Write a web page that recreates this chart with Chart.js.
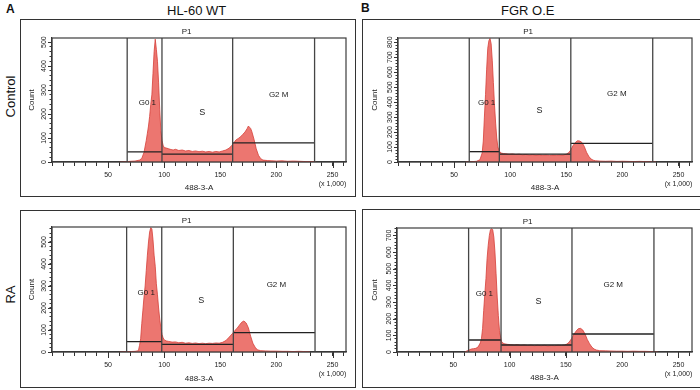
<!DOCTYPE html>
<html><head><meta charset="utf-8">
<script src="https://cdn.jsdelivr.net/npm/chart.js@4.4.0/dist/chart.umd.min.js"></script>
<style>
html,body{margin:0;padding:0;background:#fff;width:700px;height:390px;overflow:hidden;font-family:"Liberation Sans",Arial,sans-serif;}
.box{position:absolute;border:1.5px solid #333;box-sizing:border-box;}
canvas{position:absolute;}
.t{position:absolute;color:#111;white-space:nowrap;line-height:1;}
</style></head><body>
<div class="t" style="left:6px;top:3px;font-weight:bold;font-size:12px;">A</div>
<div class="t" style="left:167px;top:4px;font-size:13px;">HL-60 WT</div>
<div class="t" style="left:361px;top:2px;font-weight:bold;font-size:12px;">B</div>
<div class="t" style="left:501px;top:4px;font-size:13px;">FGR O.E</div>
<div class="t" style="left:-12px;top:90px;font-size:13px;width:44px;text-align:center;transform:rotate(-90deg);">Control</div>
<div class="t" style="left:-12px;top:288px;font-size:13px;width:44px;text-align:center;transform:rotate(-90deg);">RA</div>

<div class="box" style="left:20px;top:19px;width:336px;height:178px;"></div>
<div class="box" style="left:362px;top:19px;width:340px;height:178px;"></div>
<div class="box" style="left:20px;top:210px;width:336px;height:178px;"></div>
<div class="box" style="left:362px;top:209px;width:340px;height:179px;"></div>

<canvas id="c1" width="333" height="175" style="left:21px;top:21px;"></canvas>
<canvas id="c2" width="333" height="175" style="left:364px;top:21px;"></canvas>
<canvas id="c3" width="333" height="175" style="left:21px;top:212px;"></canvas>
<canvas id="c4" width="333" height="175" style="left:364px;top:211px;"></canvas>

<script>
// ---- data (DNA content, x1000) ----
const gateNames = ['G0 1', 'S', 'G2 M'];
const xMajorLabels = [50, 100, 150, 200, 250];

// HL-60 WT, Control
const xWtCtrl = [60,66,70,74,78,80,82,84,85,86,87,88,89,90,91,92,93,94,95,96,97,98,99,100,102,104,106,108,110,113,116,119,122,125,128,131,134,137,140,143,146,149,152,155,158,160,162,164,166,168,170,172,174,175,176,177,178,180,182,184,186,188,192,196,200,205,210,215,220,225,230,235];
const cWtCtrl = [0,1,3,4,8,15,40,90,120,150,190,240,280,370,460,512,470,420,330,220,130,90,70,60,58,55,52,50,53,48,50,46,48,44,46,43,45,42,44,41,44,42,46,50,58,68,80,92,98,105,115,125,140,150,145,140,128,95,55,28,14,8,6,5,4,5,3,4,3,2,2,1];
const gatesWtCtrl = [67, 98, 161, 234];
const levelsWtCtrl = [42, 33, 80];
const labelsWtCtrl = [[85, 246], [134, 208], [202, 280]];
const p1WtCtrl = 120;
const yMaxWtCtrl = 517;

// FGR O.E, Control
const xFgrCtrl = [60,66,70,73,75,76,77,78,79,80,81,82,83,84,85,86,87,88,89,90,91,92,94,96,99,102,105,108,111,114,117,120,123,126,129,132,135,138,141,144,147,150,152,154,156,158,160,162,164,166,168,170,172,174,176,180,185,190,195,200,205,210,215,220,225,230];
const cFgrCtrl = [0,2,5,15,60,140,300,450,620,760,810,825,790,680,530,380,260,160,100,78,65,60,56,55,52,54,50,52,48,50,47,49,46,48,45,47,44,46,45,47,46,52,62,80,110,130,142,140,130,104,65,38,20,12,8,6,5,6,4,5,4,3,4,3,2,1];
const gatesFgrCtrl = [63.5, 90.3, 154, 227];
const levelsFgrCtrl = [69, 53, 124];
const labelsFgrCtrl = [[79, 393], [126, 347], [195, 453]];
const p1FgrCtrl = 116;
const yMaxFgrCtrl = 828;

// HL-60 WT, RA
const xWtRa = [60,66,70,74,77,78,79,80,81,82,83,84,85,86,87,88,89,90,91,92,93,94,95,96,97,98,99,100,102,104,107,110,113,116,119,122,125,128,131,134,137,140,143,146,149,152,155,158,161,163,165,167,169,171,173,175,177,179,181,183,186,190,195,200,205,210,215,220,225,230];
const cWtRa = [0,1,2,3,6,30,60,130,190,250,300,370,440,500,545,565,560,510,440,390,310,260,200,150,110,80,65,55,50,48,45,46,42,44,40,42,39,41,38,40,38,40,39,41,40,44,52,68,85,98,108,122,135,141,132,110,72,40,22,10,6,5,4,4,3,3,2,3,2,1];
const gatesWtRa = [66.5, 97.8, 161.6, 234.4];
const levelsWtRa = [47, 35, 88];
const labelsWtRa = [[84, 267], [133, 232], [200, 305]];
const p1WtRa = 120;
const yMaxWtRa = 568;

// FGR O.E, RA
const xFgrRa = [60,64,66,68,70,72,74,75,76,77,78,79,80,81,82,83,84,85,86,87,88,89,90,91,92,93,95,98,101,104,107,110,113,116,119,122,125,128,131,134,137,140,143,146,149,151,153,155,157,159,161,163,165,167,169,171,173,175,177,180,185,190,195,200,205,210,215,220,225,228,232];
const cFgrRa = [0,12,18,20,22,30,55,80,140,250,350,440,560,640,700,735,740,735,690,600,470,330,220,130,90,60,50,46,44,42,44,40,42,39,41,38,40,38,40,37,39,38,40,39,42,48,60,80,105,125,140,142,132,108,75,50,30,18,12,8,7,6,5,5,4,5,4,4,3,2,0];
const gatesFgrRa = [63.6, 92.4, 155.4, 228.2];
const levelsFgrRa = [72, 42, 108];
const labelsFgrRa = [[77.6, 351], [125.7, 305], [192, 401]];
const p1FgrRa = 116;
const yMaxFgrRa = 745;

// ---- drawing ----
const FONT = '"Liberation Sans", Arial, sans-serif';
const deco = {
  id: 'deco',
  afterDatasetsDraw(chart, args, o) {
    const {ctx, chartArea: a, scales: {x, y}} = chart;
    ctx.save();
    ctx.strokeStyle = '#3c3c3c'; ctx.lineWidth = 1.2;
    ctx.strokeRect(a.left, a.top, a.right - a.left, a.bottom - a.top);
    ctx.fillStyle = '#1a1a1a'; ctx.textAlign = 'center'; ctx.textBaseline = 'middle';
    ctx.font = '8px ' + FONT;
    ctx.fillText('P1', x.getPixelForValue(o.p1), a.top - 6);
    o.labels.forEach((p, i) => {
      ctx.font = (i === 1 ? '9px ' : '8px ') + FONT;
      ctx.fillText(gateNames[i], x.getPixelForValue(p[0]), y.getPixelForValue(p[1]));
    });
    // rotated y tick labels (read bottom to top), taken from the scale's own ticks
    ctx.font = '7px ' + FONT; ctx.fillStyle = '#222';
    y.ticks.forEach(t => {
      if (t.value % 100 !== 0) return;
      const py = y.getPixelForValue(t.value);
      ctx.save();
      ctx.translate(a.left - 8, py);
      ctx.rotate(-Math.PI / 2);
      ctx.fillText(String(t.value), 0, 0);
      ctx.restore();
    });
    // longer marks for the labelled ticks
    ctx.strokeStyle = '#333'; ctx.lineWidth = 1;
    ctx.beginPath();
    xMajorLabels.forEach(v => {
      const px = Math.round(x.getPixelForValue(v)) + 0.5;
      ctx.moveTo(px, a.bottom); ctx.lineTo(px, a.bottom + 6);
    });
    y.ticks.forEach(t => {
      if (t.value % 100 !== 0) return;
      const py = Math.round(y.getPixelForValue(t.value)) + 0.5;
      ctx.moveTo(a.left, py); ctx.lineTo(a.left - 4, py);
    });
    ctx.stroke();
    ctx.restore();
  }
};

function makePanel(id, xs, cs, gates, levels, labels, p1, yMax, geo) {
  const hist = xs.map((v, i) => ({x: v, y: cs[i]}));
  const ds = [{
    data: hist, order: 5, fill: 'origin', backgroundColor: 'rgba(234,106,100,0.92)',
    borderColor: '#d63f38', borderWidth: 0.8, pointRadius: 0, tension: 0
  }];
  gates.forEach(g => ds.push({data: [{x: g, y: 0}, {x: g, y: yMax}], order: 1, borderColor: '#454545', borderWidth: 1.3, pointRadius: 0, fill: false}));
  levels.forEach((lv, i) => ds.push({data: [{x: gates[i], y: lv}, {x: gates[i + 1], y: lv}], order: 1, borderColor: '#222', borderWidth: 1.3, pointRadius: 0, fill: false}));
  new Chart(document.getElementById(id), {
    type: 'line',
    data: {datasets: ds},
    plugins: [deco],
    options: {
      responsive: false, animation: false, devicePixelRatio: 1,
      layout: {padding: {left: 0, right: geo.pr, top: geo.pt, bottom: 3}},
      plugins: {legend: {display: false}, tooltip: {enabled: false}, deco: {labels, p1}},
      scales: {
        x: {
          type: 'linear', min: 0, max: 262,
          afterFit(s) { s.height = geo.xh - 3; },
          border: {color: '#333', width: 1.2},
          grid: {drawOnChartArea: false, tickLength: 4, color: '#333'},
          ticks: {
            stepSize: 10, includeBounds: false, autoSkip: false, maxRotation: 0, minRotation: 0,
            padding: 5, color: '#222', font: {size: 7, family: FONT},
            callback: v => (v === 250 ? ['250', '(x 1,000)'] : (xMajorLabels.includes(v) ? String(v) : ''))
          },
          title: {display: true, text: '488-3-A', color: '#222', font: {size: 8, family: FONT}, padding: {top: 0, bottom: 0}}
        },
        y: {
          min: 0, max: yMax,
          afterFit(s) { s.width = geo.yw; },
          border: {color: '#333', width: 1.2},
          grid: {drawOnChartArea: false, tickLength: 2.5, color: '#333'},
          ticks: {
            stepSize: 20, includeBounds: false, autoSkip: false,
            padding: 1, color: '#222', font: {size: 7, family: FONT},
            callback: () => ''
          },
          title: {display: true, text: 'Count', color: '#222', font: {size: 8, family: FONT}, padding: {top: 6, bottom: 0}}
        }
      }
    }
  });
}

makePanel('c1', xWtCtrl, cWtCtrl, gatesWtCtrl, levelsWtCtrl, labelsWtCtrl, p1WtCtrl, yMaxWtCtrl, {yw: 31, pr: 8, pt: 17, xh: 34});
makePanel('c2', xFgrCtrl, cFgrCtrl, gatesFgrCtrl, levelsFgrCtrl, labelsFgrCtrl, p1FgrCtrl, yMaxFgrCtrl, {yw: 34, pr: 5, pt: 17, xh: 34});
makePanel('c3', xWtRa, cWtRa, gatesWtRa, levelsWtRa, labelsWtRa, p1WtRa, yMaxWtRa, {yw: 31, pr: 8, pt: 15, xh: 35});
makePanel('c4', xFgrRa, cFgrRa, gatesFgrRa, levelsFgrRa, labelsFgrRa, p1FgrRa, yMaxFgrRa, {yw: 33, pr: 5, pt: 17, xh: 34});
</script>
</body></html>
